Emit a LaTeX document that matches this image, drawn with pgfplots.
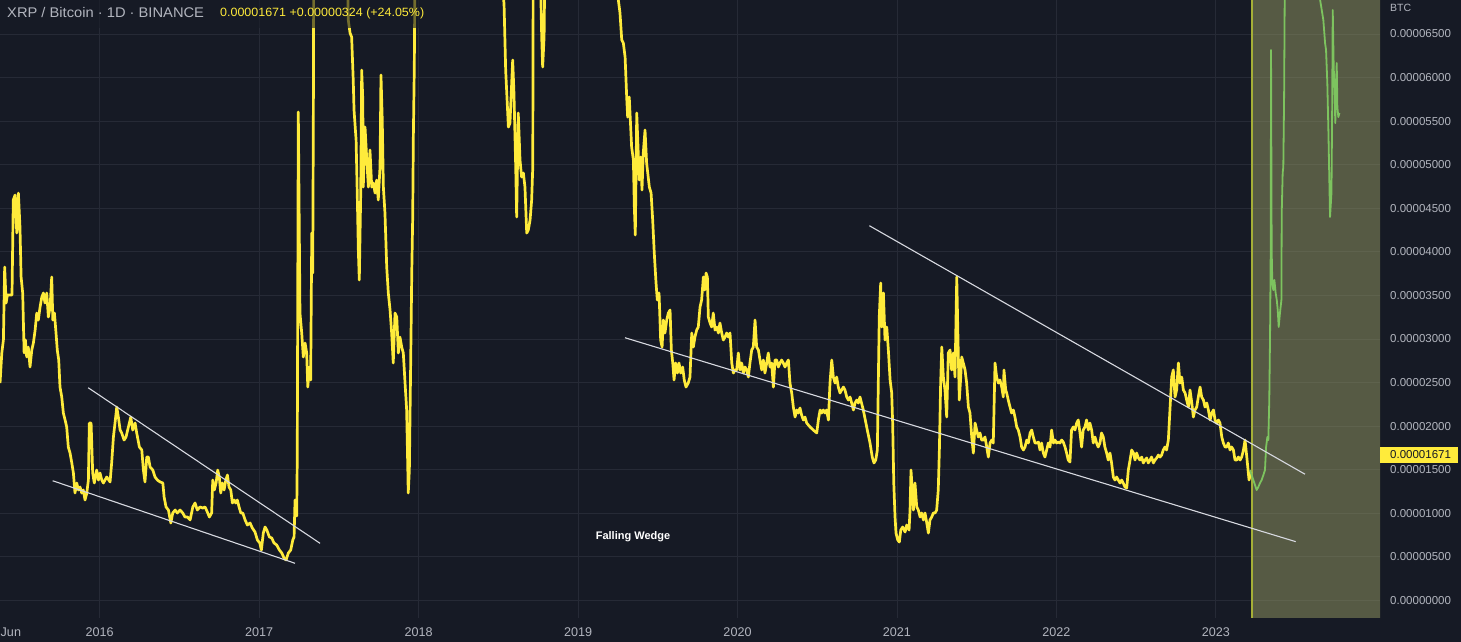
\documentclass[border=0pt]{standalone}
\usepackage{fontspec}
\setmainfont{Liberation Sans}
\usepackage{pgfplots}
\pgfplotsset{compat=1.18}
\definecolor{bg}{RGB}{22,26,37}
\definecolor{gridc}{RGB}{38,42,54}
\definecolor{axgray}{RGB}{178,181,190}
\definecolor{xrpy}{RGB}{255,235,59}
\definecolor{projg}{RGB}{125,195,95}
\definecolor{boxfill}{RGB}{150,155,100}
\definecolor{boxedge}{RGB}{165,175,55}
\definecolor{trend}{RGB}{215,217,224}
\begin{document}
\begin{tikzpicture}
\useasboundingbox (0pt,0pt) rectangle (1461pt,642pt);
\fill[bg] (0pt,0pt) rectangle (1461pt,642pt);
\begin{axis}[
  at={(0pt,24pt)}, anchor=south west,
  width=1380pt, height=618pt, scale only axis,
  xmin=2015.3747, xmax=2024.0295,
  ymin=-2.008, ymax=68.9,
  axis line style={draw=none},
  major tick length=0pt, tick style={draw=none},
  xmajorgrids, ymajorgrids,
  grid style={color=gridc, line width=0.9pt},
  xtick={2016,2017,2018,2019,2020,2021,2022,2023},
  xticklabels={2016,2017,2018,2019,2020,2021,2022,2023},
  xticklabel style={anchor=base, yshift=-18.5pt, inner sep=0pt, text=axgray, font=\fontsize{12.6}{14}\selectfont},
  ytick={0,5,10,15,20,25,30,35,40,45,50,55,60,65},
  yticklabels={0.00000000,0.00000500,0.00001000,0.00001500,0.00002000,0.00002500,0.00003000,0.00003500,0.00004000,0.00004500,0.00005000,0.00005500,0.00006000,0.00006500},
  yticklabel pos=right,
  yticklabel style={anchor=west, inner sep=0pt, xshift=10pt, text=axgray, font=\fontsize{11.5}{13}\selectfont},
]
\fill[boxfill, fill opacity=0.5] (axis cs:2023.2267,-5) rectangle (axis cs:2024.2,75);
\draw[boxedge, line width=1.8pt] (axis cs:2023.2267,-5) -- (axis cs:2023.2267,75);

\addplot[xrpy, line width=2.7pt, line join=round, no markers] coordinates {
(2015.375,24.95) (2015.386,28.40) (2015.396,29.89) (2015.404,38.26) (2015.413,34.13) (2015.421,35.05)
(2015.450,35.05) (2015.458,45.95) (2015.469,46.52) (2015.480,42.16) (2015.490,46.75) (2015.500,42.85)
(2015.507,37.12) (2015.517,35.28) (2015.526,28.40) (2015.534,29.89) (2015.542,27.94) (2015.552,29.08)
(2015.563,26.79) (2015.574,28.74) (2015.584,29.54) (2015.595,31.03) (2015.605,32.98) (2015.615,32.18)
(2015.626,33.67) (2015.637,34.82) (2015.647,35.28) (2015.657,34.13) (2015.668,35.28) (2015.678,32.53)
(2015.689,33.67) (2015.699,37.12) (2015.706,32.18) (2015.716,32.98) (2015.726,30.69) (2015.734,28.74)
(2015.743,27.59) (2015.751,24.49) (2015.762,23.35) (2015.772,21.51) (2015.783,20.71) (2015.793,19.91)
(2015.803,17.61) (2015.814,16.92) (2015.825,15.78) (2015.835,14.63) (2015.845,12.33) (2015.856,13.48)
(2015.866,12.68) (2015.877,13.02) (2015.887,12.33) (2015.897,12.68) (2015.908,11.53) (2015.919,12.33)
(2015.929,13.82) (2015.935,20.36) (2015.946,20.36) (2015.956,14.63) (2015.966,13.48) (2015.981,14.97)
(2015.992,13.82) (2016.002,14.63) (2016.013,13.82) (2016.023,13.48) (2016.044,14.17) (2016.065,13.60)
(2016.075,15.78) (2016.086,18.76) (2016.096,20.36) (2016.107,22.20) (2016.117,21.05) (2016.128,19.56)
(2016.138,19.22) (2016.153,18.41) (2016.165,18.76) (2016.180,19.91) (2016.195,21.05) (2016.207,19.56)
(2016.222,20.36) (2016.232,19.22) (2016.249,17.61) (2016.264,17.27) (2016.274,14.97) (2016.284,13.60)
(2016.295,16.46) (2016.305,16.46) (2016.316,15.32) (2016.333,14.97) (2016.347,14.17) (2016.362,13.82)
(2016.379,13.60) (2016.396,13.48) (2016.404,11.87) (2016.416,10.73) (2016.431,10.38) (2016.446,8.89)
(2016.458,10.04) (2016.473,10.38) (2016.487,10.04) (2016.504,10.38) (2016.521,10.04) (2016.535,9.58)
(2016.550,9.58) (2016.567,9.24) (2016.584,10.73) (2016.598,11.19) (2016.612,10.38) (2016.629,10.73)
(2016.646,10.61) (2016.661,10.73) (2016.675,10.15) (2016.688,9.58) (2016.702,10.04) (2016.709,13.82)
(2016.719,12.68) (2016.730,13.48) (2016.740,14.97) (2016.750,14.17) (2016.759,12.33) (2016.769,13.48)
(2016.780,12.68) (2016.791,13.82) (2016.801,14.40) (2016.811,13.02) (2016.822,12.68) (2016.832,11.19)
(2016.843,11.53) (2016.853,11.19) (2016.863,11.53) (2016.874,10.73) (2016.885,10.04) (2016.897,10.04)
(2016.912,9.24) (2016.926,8.66) (2016.943,8.89) (2016.957,8.32) (2016.974,7.86) (2016.989,6.94)
(2017.004,6.60) (2017.014,5.79) (2017.026,7.74) (2017.037,8.43) (2017.048,8.09) (2017.064,7.29)
(2017.079,7.17) (2017.093,6.60) (2017.110,6.37) (2017.127,5.79) (2017.142,5.45) (2017.156,4.88)
(2017.169,4.65) (2017.183,5.45) (2017.198,5.79) (2017.211,6.94) (2017.219,7.29) (2017.225,11.53)
(2017.2355,9.69) (2017.239,16.58) (2017.2455,56.05) (2017.256,32.98) (2017.267,30.69) (2017.277,27.94)
(2017.288,29.54) (2017.298,28.40) (2017.305,24.49) (2017.315,26.79) (2017.323,25.30) (2017.330,42.16)
(2017.336,37.57) (2017.340,56.28) (2017.346,100) (2017.382,130) (2017.444,160) (2017.507,100)
(2017.545,80) (2017.559,66.60) (2017.570,65.11) (2017.580,64.65) (2017.587,61.21) (2017.590,59.72)
(2017.595,56.28) (2017.608,52.83) (2017.616,45.95) (2017.622,40.21) (2017.628,36.77) (2017.637,46.75)
(2017.643,60.86) (2017.650,57.42) (2017.653,47.44) (2017.664,54.32) (2017.675,50.54) (2017.685,47.44)
(2017.695,51.69) (2017.706,47.44) (2017.716,47.90) (2017.727,46.75) (2017.737,48.24) (2017.747,45.95)
(2017.758,49.74) (2017.764,60.29) (2017.772,55.13) (2017.779,47.44) (2017.789,44.46) (2017.800,38.26)
(2017.810,35.28) (2017.821,33.33) (2017.831,30.69) (2017.841,27.25) (2017.852,32.98) (2017.863,32.53)
(2017.873,28.40) (2017.883,30.23) (2017.894,29.08) (2017.904,28.40) (2017.915,24.95) (2017.925,21.86)
(2017.932,15.32) (2017.935,12.33) (2017.942,14.97) (2017.950,26.79) (2017.957,37.57) (2017.963,44.00)
(2017.967,53.18) (2017.973,61.21) (2017.980,80) (2018.009,200) (2018.071,150) (2018.197,100)
(2018.322,110) (2018.448,90) (2018.511,75) (2018.536,68.32) (2018.546,60.86) (2018.563,54.32)
(2018.573,54.78) (2018.590,62.01) (2018.598,58.23) (2018.609,49.74) (2018.615,44.00) (2018.625,55.93)
(2018.636,50.54) (2018.646,48.59) (2018.657,49.05) (2018.667,47.44) (2018.678,42.16) (2018.688,42.51)
(2018.699,43.65) (2018.709,45.95) (2018.716,49.74) (2018.719,75) (2018.743,90) (2018.772,64.65)
(2018.778,61.21) (2018.787,64.65) (2018.793,75) (2018.887,95) (2019.012,100) (2019.138,90)
(2019.213,75) (2019.252,69) (2019.263,67.40) (2019.274,64.31) (2019.284,63.96) (2019.295,62.36)
(2019.305,57.77) (2019.311,55.47) (2019.321,57.77) (2019.330,54.32) (2019.336,52.03) (2019.347,50.54)
(2019.353,45.15) (2019.359,41.93) (2019.368,55.93) (2019.376,52.03) (2019.384,48.24) (2019.393,50.88)
(2019.401,47.10) (2019.409,51.34) (2019.420,53.98) (2019.430,50.20) (2019.447,47.44) (2019.458,46.75)
(2019.468,43.65) (2019.478,39.87) (2019.489,36.43) (2019.497,34.48) (2019.508,35.28) (2019.518,29.89)
(2019.527,29.08) (2019.535,32.18) (2019.545,30.69) (2019.556,32.18) (2019.566,32.98) (2019.577,33.33)
(2019.585,28.74) (2019.594,27.25) (2019.602,25.30) (2019.612,27.25) (2019.623,26.10) (2019.633,27.25)
(2019.644,26.10) (2019.656,26.79) (2019.666,25.30) (2019.677,24.49) (2019.691,24.95) (2019.702,25.64)
(2019.713,30.69) (2019.723,29.08) (2019.733,30.23) (2019.744,31.03) (2019.754,31.38) (2019.765,33.67)
(2019.775,34.48) (2019.786,37.12) (2019.794,35.62) (2019.803,37.57) (2019.811,37.12) (2019.817,32.53)
(2019.828,31.84) (2019.838,31.38) (2019.848,32.98) (2019.859,31.03) (2019.870,31.38) (2019.880,30.69)
(2019.890,31.84) (2019.901,30.69) (2019.911,29.89) (2019.922,30.23) (2019.932,30.69) (2019.942,30.23)
(2019.953,30.69) (2019.964,27.25) (2019.974,26.10) (2019.984,26.45) (2019.995,26.45) (2020.005,28.40)
(2020.016,26.45) (2020.026,27.25) (2020.037,26.10) (2020.047,26.79) (2020.058,26.45) (2020.068,25.64)
(2020.078,27.25) (2020.089,28.74) (2020.099,29.08) (2020.110,32.18) (2020.120,29.08) (2020.131,28.74)
(2020.141,27.59) (2020.152,26.45) (2020.162,27.59) (2020.172,26.10) (2020.183,27.25) (2020.193,28.40)
(2020.204,26.79) (2020.214,27.25) (2020.225,24.49) (2020.235,27.59) (2020.246,27.59) (2020.256,26.79)
(2020.267,27.25) (2020.277,27.59) (2020.287,27.25) (2020.298,26.79) (2020.308,27.25) (2020.319,27.59)
(2020.329,24.95) (2020.340,23.81) (2020.350,22.20) (2020.361,21.05) (2020.371,21.86) (2020.381,21.51)
(2020.392,22.09) (2020.402,21.28) (2020.413,20.71) (2020.423,21.05) (2020.434,20.36) (2020.444,20.14)
(2020.455,19.91) (2020.475,19.56) (2020.497,19.22) (2020.507,20.71) (2020.518,21.86) (2020.528,21.51)
(2020.538,21.86) (2020.549,21.51) (2020.559,21.86) (2020.570,20.71) (2020.580,24.95) (2020.591,27.59)
(2020.601,25.64) (2020.612,24.95) (2020.622,25.64) (2020.632,24.49) (2020.643,23.81) (2020.653,24.15)
(2020.664,24.49) (2020.674,24.15) (2020.685,23.35) (2020.695,23.00) (2020.706,23.35) (2020.716,22.66)
(2020.727,21.86) (2020.737,22.66) (2020.748,23.00) (2020.758,22.66) (2020.768,23.35) (2020.789,21.86)
(2020.810,19.91) (2020.831,18.07) (2020.845,16.46) (2020.856,15.78) (2020.867,16.12) (2020.877,17.27)
(2020.883,24.95) (2020.889,32.53) (2020.898,36.43) (2020.904,31.38) (2020.915,35.28) (2020.925,29.89)
(2020.936,31.38) (2020.946,28.74) (2020.957,25.30) (2020.967,23.81) (2020.973,20.36) (2020.980,13.48)
(2020.988,9.58) (2020.994,7.74) (2021.005,6.94) (2021.015,6.71) (2021.024,8.09) (2021.036,8.43)
(2021.051,7.86) (2021.061,8.66) (2021.076,8.09) (2021.082,10.38) (2021.088,14.97) (2021.096,12.68)
(2021.103,10.38) (2021.113,13.48) (2021.124,10.73) (2021.134,10.38) (2021.145,9.58) (2021.155,10.04)
(2021.166,9.24) (2021.176,10.04) (2021.187,8.89) (2021.197,7.74) (2021.207,9.24) (2021.218,9.58)
(2021.228,10.04) (2021.239,10.04) (2021.249,10.38) (2021.259,12.68) (2021.266,17.27) (2021.274,24.95)
(2021.281,29.08) (2021.291,25.64) (2021.301,24.15) (2021.312,21.05) (2021.322,28.40) (2021.333,28.74)
(2021.343,26.45) (2021.354,28.40) (2021.364,25.64) (2021.375,37.12) (2021.385,27.94) (2021.391,23.00)
(2021.400,25.64) (2021.406,27.94) (2021.416,27.25) (2021.427,26.45) (2021.437,24.95) (2021.448,22.20)
(2021.458,21.51) (2021.469,18.76) (2021.479,16.92) (2021.490,20.36) (2021.500,19.56) (2021.510,18.76)
(2021.521,19.22) (2021.531,18.41) (2021.542,18.41) (2021.552,18.76) (2021.563,17.61) (2021.573,16.46)
(2021.584,18.07) (2021.594,18.41) (2021.604,18.07) (2021.615,27.25) (2021.625,25.64) (2021.636,24.95)
(2021.646,25.30) (2021.657,24.49) (2021.667,23.35) (2021.671,26.45) (2021.682,24.15) (2021.688,23.81)
(2021.698,23.00) (2021.709,22.20) (2021.719,21.51) (2021.730,21.86) (2021.740,21.05) (2021.751,19.91)
(2021.761,19.56) (2021.772,18.76) (2021.782,17.61) (2021.793,17.27) (2021.803,17.61) (2021.814,18.41)
(2021.824,18.07) (2021.835,19.22) (2021.845,19.56) (2021.855,18.76) (2021.866,18.07) (2021.876,18.07)
(2021.887,18.18) (2021.897,17.27) (2021.907,18.07) (2021.918,16.92) (2021.928,16.46) (2021.939,17.27)
(2021.949,18.07) (2021.960,17.61) (2021.970,19.56) (2021.981,18.07) (2021.991,18.41) (2022.001,18.07)
(2022.012,18.18) (2022.022,18.07) (2022.033,18.41) (2022.043,18.18) (2022.054,17.61) (2022.064,16.92)
(2022.074,16.12) (2022.085,15.89) (2022.095,19.56) (2022.106,19.91) (2022.116,19.56) (2022.127,20.36)
(2022.137,20.71) (2022.148,19.22) (2022.158,17.61) (2022.168,19.56) (2022.179,19.91) (2022.189,20.71)
(2022.200,19.56) (2022.210,20.36) (2022.221,19.56) (2022.231,18.07) (2022.242,18.76) (2022.252,18.07)
(2022.262,17.61) (2022.273,18.07) (2022.283,19.22) (2022.294,18.76) (2022.304,17.61) (2022.315,16.92)
(2022.325,16.12) (2022.336,16.92) (2022.346,15.78) (2022.357,14.17) (2022.367,13.82) (2022.378,14.17)
(2022.388,13.82) (2022.399,13.48) (2022.409,13.82) (2022.419,13.48) (2022.430,13.02) (2022.441,12.91)
(2022.451,14.97) (2022.462,16.12) (2022.472,17.27) (2022.483,16.92) (2022.493,16.12) (2022.503,16.92)
(2022.514,16.35) (2022.524,16.12) (2022.535,16.46) (2022.545,15.78) (2022.556,16.12) (2022.566,16.35)
(2022.576,15.78) (2022.587,16.12) (2022.597,16.46) (2022.608,15.78) (2022.618,16.12) (2022.629,16.35)
(2022.639,16.69) (2022.650,16.46) (2022.660,16.69) (2022.670,17.27) (2022.681,17.61) (2022.691,17.27)
(2022.702,18.41) (2022.712,21.86) (2022.723,25.64) (2022.733,26.45) (2022.744,23.35) (2022.754,24.15)
(2022.765,27.25) (2022.775,24.95) (2022.786,25.64) (2022.796,24.15) (2022.807,23.81) (2022.817,23.00)
(2022.828,22.20) (2022.838,24.15) (2022.849,22.66) (2022.859,21.05) (2022.869,21.86) (2022.880,22.20)
(2022.890,23.35) (2022.901,24.49) (2022.911,23.35) (2022.922,23.00) (2022.932,22.20) (2022.943,22.66)
(2022.953,21.86) (2022.964,20.71) (2022.974,21.51) (2022.985,21.86) (2022.995,20.71) (2023.005,20.36)
(2023.016,20.71) (2023.026,20.36) (2023.037,18.76) (2023.047,18.07) (2023.058,17.61) (2023.068,17.61)
(2023.078,18.07) (2023.089,17.27) (2023.099,17.61) (2023.110,17.27) (2023.120,16.12) (2023.131,16.12)
(2023.141,16.46) (2023.152,16.12) (2023.162,16.46) (2023.173,17.27) (2023.183,18.41) (2023.194,16.46)
(2023.200,15.32) (2023.208,13.82) (2023.220,14.74)
};

\addplot[projg, line width=1.8pt, line join=round, no markers] coordinates {
(2023.214,14.97) (2023.235,13.82) (2023.256,12.68) (2023.266,13.02) (2023.277,13.48) (2023.287,13.82)
(2023.298,14.40) (2023.308,14.97) (2023.315,17.61) (2023.323,18.76) (2023.329,18.41) (2023.335,23.00)
(2023.340,30.69) (2023.344,40.21) (2023.346,63.16) (2023.350,40.21) (2023.354,36.43) (2023.360,35.62)
(2023.367,36.77) (2023.375,35.28) (2023.382,34.48) (2023.388,33.33) (2023.394,31.38) (2023.402,32.98)
(2023.411,34.48) (2023.413,44.46) (2023.419,49.05) (2023.423,49.74) (2023.428,57.77) (2023.432,70)
(2023.465,90) (2023.528,100) (2023.590,90) (2023.641,75) (2023.653,69) (2023.664,67.75)
(2023.674,66.60) (2023.685,63.96) (2023.691,63.16) (2023.699,59.37) (2023.706,53.64) (2023.712,47.90)
(2023.716,44.00) (2023.725,46.75) (2023.729,55.47) (2023.733,67.75) (2023.739,61.21) (2023.746,57.42)
(2023.749,54.78) (2023.754,59.37) (2023.758,61.67) (2023.762,56.62) (2023.768,55.47) (2023.775,55.93)
};

\addplot[trend, line width=1.1pt, no markers] coordinates {(2015.705,13.74) (2017.225,4.27)};
\addplot[trend, line width=1.1pt, no markers] coordinates {(2015.928,24.41) (2017.382,6.56)};
\addplot[trend, line width=1.1pt, no markers] coordinates {(2019.294,30.15) (2023.501,6.75)};
\addplot[trend, line width=1.1pt, no markers] coordinates {(2020.827,43.00) (2023.559,14.49)};
\end{axis}

% legend background dims the lines behind the title
\fill[bg, opacity=0.6] (0pt,614pt) rectangle (430pt,642pt);
\node[anchor=west, inner sep=0pt, text=axgray, font=\fontsize{14}{16}\selectfont] at (7pt,629pt) {\scalebox{1.05}[1]{XRP / Bitcoin · 1D · BINANCE}};
\node[anchor=west, inner sep=0pt, text=xrpy, font=\fontsize{12}{14}\selectfont] at (220pt,629pt) {\scalebox{1.04}[1]{0.00001671 +0.00000324 (+24.05\%)}};

\node[anchor=base west, inner sep=0pt, text=axgray, font=\fontsize{12.6}{14}\selectfont] at (0.5pt,5.5pt) {Jun};

\node[anchor=west, inner sep=0pt, text=axgray, font=\fontsize{10.5}{12}\selectfont] at (1390pt,634pt) {BTC};

\fill[xrpy] (1380pt,179pt) rectangle (1458pt,195pt);
\node[anchor=west, inner sep=0pt, text=bg, font=\fontsize{11.5}{13}\selectfont] at (1390pt,187pt) {0.00001671};

\node[inner sep=0pt, text=white, font=\bfseries\fontsize{11}{13}\selectfont] at (633pt,105pt) {Falling Wedge};
\end{tikzpicture}
\end{document}
